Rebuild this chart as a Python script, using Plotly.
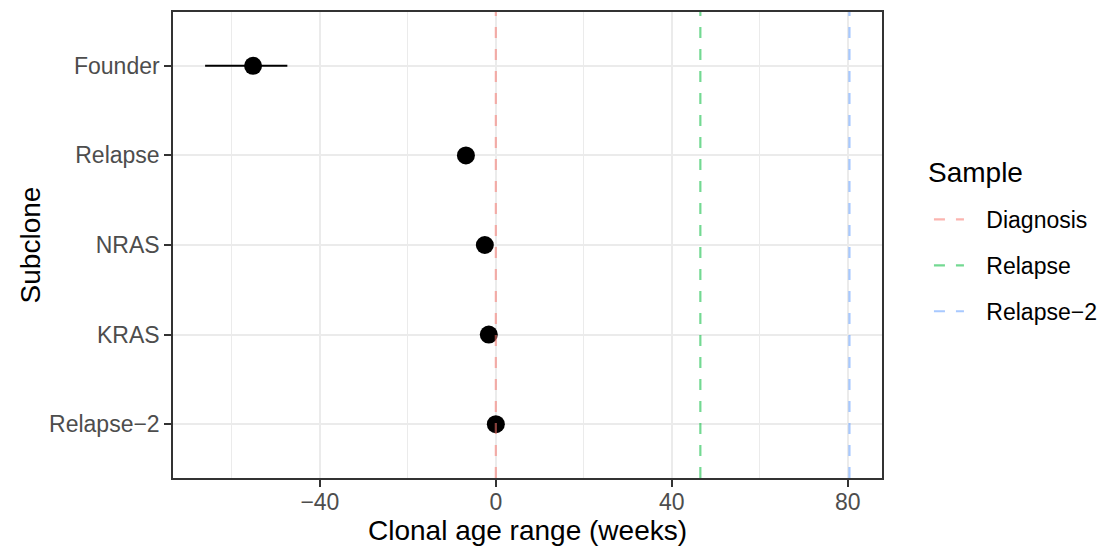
import plotly.graph_objects as go

# Data
subclones = ["Founder", "Relapse", "NRAS", "KRAS", "Relapse\u22122"]
age_mid = [-55.2, -6.8, -2.5, -1.6, 0.0]
age_low = [-66.1, -6.8, -2.5, -1.6, 0.0]
age_high = [-47.4, -6.8, -2.5, -1.6, 0.0]

samples = ["Diagnosis", "Relapse", "Relapse\u22122"]
sample_weeks = [0.0, 46.5, 80.4]
sample_colors = ["rgba(248,118,109,0.55)", "rgba(0,186,56,0.55)", "rgba(97,156,255,0.55)"]

x_ticks = [-40, 0, 40, 80]
x_tick_labels = ["\u221240", "0", "40", "80"]

FONT = "Liberation Sans, Arial, Helvetica, sans-serif"
PAD = "\u00a0\u00a0\u2009"

fig = go.Figure()

fig.add_trace(go.Scatter(
    x=age_mid, y=subclones, mode="markers",
    marker=dict(size=18, color="black"),
    error_x=dict(type="data", symmetric=False,
                 array=[h - m for h, m in zip(age_high, age_mid)],
                 arrayminus=[m - l for m, l in zip(age_mid, age_low)],
                 width=0, thickness=2.2, color="black"),
    showlegend=False, hoverinfo="skip",
))

for i, (name, wk, col) in enumerate(zip(samples, sample_weeks, sample_colors)):
    fig.add_trace(go.Scatter(
        x=[wk, wk], y=[0, 1], yaxis="y2", mode="lines",
        line=dict(color=col, width=2.2, dash="11px,11px"),
        name=PAD + name, legendgroup=f"g{i}", showlegend=True,
    ))

fig.update_layout(
    width=1100, height=547,
    margin=dict(l=173, r=218, t=12, b=69, autoexpand=False),
    paper_bgcolor="white", plot_bgcolor="white",
    font=dict(family=FONT, size=23, color="#4D4D4D"),
    xaxis=dict(
        range=[-73.4, 87.8], tickvals=x_ticks, ticktext=x_tick_labels,
        showgrid=True, gridcolor="#EBEBEB", gridwidth=2,
        minor=dict(tickvals=[-60, -20, 20, 60], showgrid=True, gridcolor="#EBEBEB", gridwidth=1, ticklen=0),
        zeroline=False, showline=True, linecolor="#333333", linewidth=1.5, mirror=True,
        ticks="outside", ticklen=7, tickwidth=1.5, tickcolor="#333333",
        tickfont=dict(size=23, color="#4D4D4D"), automargin=False,
        ticklabelstandoff=-4,
        title=dict(text="Clonal age range (weeks)", font=dict(size=28, color="black"), standoff=2),
    ),
    yaxis=dict(
        categoryorder="array", categoryarray=subclones[::-1],
        range=[-0.6, 4.6],
        showgrid=True, gridcolor="#EBEBEB", gridwidth=2,
        zeroline=False, showline=True, linecolor="#333333", linewidth=1.5, mirror=True,
        ticks="outside", ticklen=7, tickwidth=1.5, tickcolor="#333333",
        tickfont=dict(size=23, color="#4D4D4D"), automargin=False,
        title=dict(text="Subclone", font=dict(size=28, color="black"), standoff=0),
    ),
    yaxis2=dict(overlaying="y", range=[0, 1], visible=False, fixedrange=True),
    legend=dict(
        xref="container", yref="container", x=0.8445, y=0.638, xanchor="left", yanchor="top",
        font=dict(size=23, color="black"),
        traceorder="grouped", tracegroupgap=13,
        bgcolor="rgba(0,0,0,0)",
    ),
    annotations=[dict(
        text="Sample", xref="paper", yref="paper", x=(926 - 173) / 709, y=1 - (172 - 12) / 466,
        xanchor="left", yanchor="middle", showarrow=False,
        font=dict(size=28, color="black", family=FONT),
    )],
)

fig.write_html("out.html")
